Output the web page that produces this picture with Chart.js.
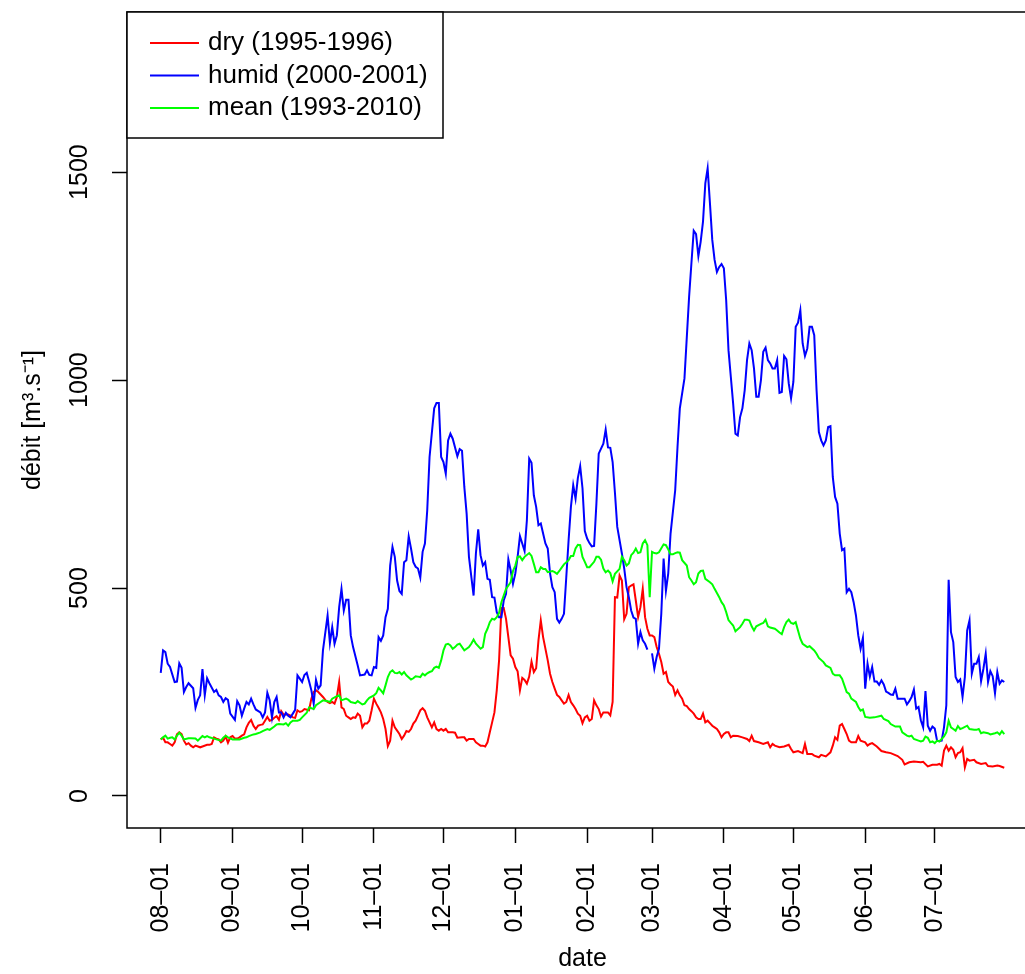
<!DOCTYPE html>
<html>
<head>
<meta charset="utf-8">
<script src="https://cdn.jsdelivr.net/npm/chart.js@4.4.1/dist/chart.umd.min.js"></script>
<style>
  html, body { margin: 0; padding: 0; background: #fff; overflow: hidden; }
  #wrap { width: 1045px; height: 974px; }
</style>
</head>
<body>
<div id="wrap"><canvas id="chartDebit" width="1045" height="974"></canvas></div>
<script>
// --- axes ---
const monthDays = [0, 31, 61, 92, 122, 153, 184, 212, 243, 273, 304, 334];
const monthLabels = ['08–01', '09–01', '10–01', '11–01', '12–01', '01–01', '02–01', '03–01', '04–01', '05–01', '06–01', '07–01'];
const yTicks = [0, 500, 1000, 1500];

// --- series: [day since 08-01, débit] ---
const dryPts = [[0,136],[1,140],[2,129],[3,129],[4,125],[5,121],[6,129],[7,148],[8,153],[9,149],[10,133],[11,124],[12,127],[13,121],[14,117],[15,121],[17,117],[18,119],[20,123],[21,123],[22,125],[23,141],[24,138],[25,136],[26,129],[27,133],[28,143],[29,128],[30,141],[31,144],[32,138],[33,138],[34,141],[35,145],[36,148],[37,165],[38,176],[39,183],[40,169],[41,161],[42,169],[43,171],[44,172],[45,181],[46,190],[47,181],[48,183],[49,188],[50,192],[51,183],[52,204],[53,196],[54,196],[55,196],[56,193],[57,189],[58,188],[59,206],[60,202],[61,204],[62,209],[64,206],[65,234],[66,250],[67,254],[68,250],[69,244],[70,238],[71,231],[72,226],[73,223],[74,226],[75,222],[76,238],[77,274],[78,213],[79,209],[80,193],[81,189],[82,185],[83,189],[84,188],[85,198],[86,193],[87,165],[88,174],[89,174],[90,181],[91,206],[92,234],[93,222],[94,212],[95,201],[96,185],[97,161],[98,120],[99,133],[100,181],[101,165],[102,157],[103,149],[104,137],[105,145],[106,156],[107,154],[108,161],[109,174],[110,181],[111,193],[112,206],[113,211],[114,205],[115,189],[116,177],[117,165],[118,177],[119,161],[120,157],[121,161],[122,157],[123,161],[124,153],[126,153],[127,152],[128,140],[130,141],[131,141],[132,133],[133,137],[135,137],[136,129],[137,125],[138,121],[139,121],[140,119],[141,129],[142,153],[143,177],[144,201],[145,254],[146,326],[147,452],[148,452],[149,426],[151,338],[152,330],[153,310],[154,300],[155,254],[156,284],[157,279],[158,270],[159,287],[160,323],[161,298],[162,307],[163,374],[164,422],[165,382],[167,326],[168,294],[169,274],[170,258],[171,243],[172,238],[173,230],[174,222],[175,226],[176,243],[177,226],[178,218],[179,209],[180,198],[181,193],[182,175],[183,189],[184,193],[185,181],[186,185],[187,230],[188,218],[189,209],[190,191],[191,201],[192,201],[193,201],[194,194],[195,226],[196,478],[197,477],[198,530],[199,518],[200,425],[201,438],[202,502],[203,506],[204,509],[205,470],[206,430],[207,454],[208,498],[209,430],[210,402],[211,386],[212,386],[213,382],[214,358],[215,342],[216,322],[217,294],[218,298],[219,274],[220,268],[221,263],[222,243],[223,254],[224,242],[225,234],[226,218],[227,216],[228,209],[229,204],[230,198],[231,189],[232,185],[233,185],[234,198],[235,177],[236,181],[237,175],[238,169],[239,165],[240,161],[241,153],[242,141],[243,149],[244,153],[245,153],[246,141],[247,145],[249,144],[251,141],[253,137],[254,132],[255,145],[256,132],[258,129],[260,125],[262,129],[263,117],[264,125],[265,121],[267,117],[269,119],[271,123],[272,113],[273,105],[275,108],[277,103],[278,125],[279,101],[281,101],[282,97],[284,93],[285,99],[287,95],[289,105],[290,121],[291,141],[292,135],[293,169],[294,173],[295,161],[296,149],[297,133],[298,129],[300,129],[301,144],[302,133],[304,129],[305,121],[306,125],[307,127],[309,119],[311,108],[313,105],[315,103],[318,96],[320,87],[321,76],[323,81],[325,83],[328,81],[329,82],[331,71],[333,75],[335,75],[336,77],[337,73],[338,109],[339,121],[340,109],[341,117],[342,111],[343,93],[344,103],[345,105],[346,115],[347,69],[348,89],[349,85],[351,87],[352,81],[354,77],[356,79],[357,72],[359,71],[361,73],[362,72],[364,68]];

const humidPts = [[0,296],[1,350],[2,346],[3,318],[4,310],[6,274],[7,275],[8,319],[9,308],[10,250],[11,262],[12,271],[14,259],[15,212],[16,231],[17,242],[18,305],[19,242],[20,283],[21,271],[23,250],[24,255],[25,242],[26,238],[27,226],[28,235],[29,231],[30,198],[32,183],[33,228],[34,218],[35,193],[36,210],[37,226],[38,220],[39,234],[40,220],[41,208],[43,201],[44,189],[45,201],[46,248],[47,230],[48,189],[49,226],[50,238],[51,201],[52,201],[53,189],[54,200],[55,193],[56,189],[57,198],[58,207],[59,290],[60,282],[61,274],[62,291],[63,296],[64,276],[65,254],[66,222],[67,279],[68,258],[69,266],[70,350],[72,434],[73,368],[74,406],[75,366],[76,386],[77,454],[78,498],[79,446],[80,472],[81,472],[82,386],[83,358],[85,314],[86,290],[88,292],[89,302],[90,291],[91,290],[92,310],[93,308],[94,382],[95,373],[96,386],[97,430],[98,450],[99,554],[100,599],[101,575],[102,518],[103,493],[104,486],[105,562],[106,567],[107,624],[108,595],[109,562],[110,551],[111,547],[112,525],[113,587],[114,607],[115,687],[116,815],[118,932],[119,945],[120,945],[121,815],[122,803],[123,775],[124,855],[125,871],[126,859],[128,817],[129,834],[130,830],[131,743],[132,679],[133,575],[135,482],[136,583],[137,641],[138,579],[139,554],[140,562],[141,522],[142,520],[143,478],[144,477],[145,442],[146,430],[147,430],[148,470],[149,486],[150,569],[151,542],[152,510],[153,535],[154,575],[155,625],[156,607],[157,589],[158,663],[159,811],[160,801],[161,723],[162,695],[163,651],[164,655],[165,631],[166,607],[167,595],[168,535],[169,502],[170,490],[171,426],[172,417],[173,426],[174,438],[175,526],[176,615],[177,695],[178,747],[179,715],[180,765],[181,793],[182,740],[183,637],[184,619],[185,608],[186,600],[187,601],[188,703],[189,823],[190,835],[191,847],[192,881],[193,838],[194,837],[195,803],[196,729],[197,647],[199,583],[200,547],[201,502],[202,478],[203,446],[204,429],[205,426],[206,366],[207,394],[208,374],[209,366],[210,352],[211,null],[212,343],[213,306],[214,334],[215,354],[216,438],[217,571],[218,493],[219,535],[220,631],[222,735],[223,839],[224,932],[226,1004],[228,1200],[229,1281],[230,1359],[231,1351],[232,1298],[233,1333],[234,1381],[235,1473],[236,1509],[237,1425],[238,1337],[239,1289],[240,1260],[241,1272],[242,1279],[243,1269],[244,1192],[245,1072],[246,1008],[247,944],[248,871],[249,867],[250,911],[251,932],[252,976],[253,1048],[254,1088],[255,1072],[256,1028],[257,960],[258,960],[259,1000],[260,1068],[261,1078],[262,1048],[263,1040],[264,1028],[265,1028],[266,1048],[267,969],[268,971],[269,1058],[270,1050],[271,992],[272,956],[273,996],[274,1128],[275,1138],[276,1168],[277,1088],[278,1058],[279,1076],[280,1128],[281,1128],[282,1108],[283,976],[284,875],[285,855],[286,843],[287,855],[288,887],[289,889],[290,767],[291,719],[292,703],[293,631],[294,591],[295,595],[296,490],[297,498],[298,490],[299,466],[300,434],[301,386],[302,354],[303,380],[304,258],[305,318],[306,287],[307,310],[308,275],[309,275],[310,267],[311,278],[312,268],[313,251],[314,248],[315,244],[316,243],[317,258],[318,234],[320,234],[321,234],[322,220],[323,228],[324,238],[325,256],[326,210],[327,214],[328,182],[329,165],[330,252],[331,169],[332,157],[333,167],[334,162],[335,133],[336,132],[337,133],[338,165],[339,218],[340,520],[341,394],[342,370],[343,286],[344,274],[345,280],[346,238],[347,286],[348,398],[349,422],[350,294],[351,318],[352,318],[353,334],[354,276],[355,306],[356,342],[357,274],[358,300],[359,288],[360,247],[361,298],[362,270],[363,278],[364,274]];

const meanPts = [[0,136],[1,141],[2,145],[3,138],[4,140],[5,141],[6,136],[7,145],[8,152],[9,145],[10,136],[12,139],[13,139],[15,138],[16,133],[18,144],[19,141],[20,144],[21,141],[23,138],[24,136],[26,133],[27,140],[28,145],[29,141],[31,136],[32,136],[34,136],[36,140],[37,141],[38,144],[40,148],[41,149],[43,153],[44,156],[46,161],[47,159],[49,167],[50,172],[51,173],[53,172],[54,175],[55,169],[56,177],[57,181],[59,181],[60,183],[61,189],[63,200],[64,213],[66,209],[67,218],[69,226],[70,230],[72,228],[73,226],[74,234],[76,240],[77,242],[78,230],[80,234],[81,231],[82,226],[84,223],[85,228],[87,220],[88,222],[89,230],[90,236],[92,242],[93,247],[94,260],[95,254],[96,247],[97,266],[98,286],[99,298],[100,302],[101,296],[102,295],[103,298],[104,292],[105,298],[106,290],[108,280],[109,283],[110,288],[111,287],[112,286],[113,294],[114,290],[115,295],[116,298],[117,300],[118,308],[119,311],[120,308],[121,326],[122,350],[123,364],[124,366],[125,362],[126,354],[127,358],[128,364],[129,366],[131,350],[132,354],[133,358],[134,366],[135,376],[136,366],[138,354],[139,358],[140,390],[141,402],[142,418],[143,426],[144,424],[145,430],[146,440],[147,466],[148,482],[149,498],[151,514],[152,541],[153,554],[154,575],[155,576],[156,567],[157,575],[159,584],[160,577],[161,558],[162,538],[163,538],[164,550],[165,546],[166,546],[167,538],[169,541],[170,538],[171,534],[172,541],[173,549],[174,557],[176,567],[177,577],[178,577],[179,595],[180,604],[181,603],[182,575],[183,563],[184,550],[185,550],[187,563],[188,575],[189,575],[190,568],[191,547],[192,538],[193,542],[194,536],[195,516],[196,534],[198,546],[199,575],[200,567],[201,554],[202,559],[203,579],[204,585],[205,595],[206,584],[207,586],[208,607],[209,615],[210,603],[211,478],[212,587],[213,584],[214,583],[215,586],[217,605],[218,603],[219,593],[220,581],[221,581],[222,584],[223,586],[224,585],[225,567],[227,554],[228,526],[229,518],[230,509],[231,514],[232,535],[233,541],[234,542],[235,522],[237,514],[238,509],[239,498],[240,488],[241,478],[242,466],[243,458],[244,442],[245,423],[246,416],[247,410],[248,396],[250,406],[251,414],[252,424],[253,424],[254,422],[255,408],[256,398],[257,408],[259,414],[260,416],[261,424],[262,408],[263,405],[265,402],[266,398],[267,393],[268,389],[269,406],[270,418],[271,424],[272,416],[273,414],[274,418],[275,398],[276,378],[277,366],[279,358],[280,360],[282,350],[283,342],[284,332],[286,322],[287,314],[289,308],[290,294],[291,290],[293,290],[294,282],[295,266],[296,250],[297,246],[298,234],[300,226],[301,214],[302,205],[303,208],[304,190],[306,188],[308,189],[311,193],[312,185],[314,180],[315,173],[317,167],[319,167],[320,153],[322,145],[323,143],[324,145],[325,137],[327,133],[328,131],[329,133],[330,143],[331,140],[332,129],[333,131],[334,127],[335,133],[336,131],[338,143],[339,153],[340,181],[341,165],[342,161],[343,157],[344,168],[345,161],[346,163],[348,169],[349,161],[351,159],[352,159],[353,161],[354,151],[355,153],[357,151],[358,148],[360,151],[361,153],[362,148],[363,156],[364,149]];

const FONT = "'Liberation Sans', Arial, Helvetica, sans-serif";
const toXY = pts => pts.map(([x, y]) => ({ x: x, y: y }));

// fond blanc
const whiteBg = {
    id: 'whiteBg',
    beforeDraw(chart) {
        const c = chart.ctx;
        c.save(); c.fillStyle = '#ffffff'; c.fillRect(0, 0, chart.width, chart.height); c.restore();
    }
};

// cadre du graphique (box)
const plotBox = {
    id: 'plotBox',
    afterDraw(chart) {
        const c = chart.ctx, a = chart.chartArea;
        c.save(); c.strokeStyle = '#000'; c.lineWidth = 1.5;
        c.strokeRect(a.left, a.top, a.right - a.left, a.bottom - a.top);
        c.restore();
    }
};

// légende encadrée en haut à gauche
const boxLegend = {
    id: 'boxLegend',
    afterDraw(chart) {
        const c = chart.ctx, a = chart.chartArea;
        const x0 = a.left, y0 = a.top;
        c.save();
        c.fillStyle = '#fff'; c.fillRect(x0, y0, 316, 126);
        c.strokeStyle = '#000'; c.lineWidth = 1.5; c.strokeRect(x0, y0, 316, 126);
        c.font = '26px ' + FONT; c.textBaseline = 'middle'; c.textAlign = 'left';
        chart.data.datasets.forEach((ds, i) => {
            const y = y0 + 31 + i * 32.5;
            c.strokeStyle = ds.borderColor; c.lineWidth = 2;
            c.beginPath(); c.moveTo(x0 + 23, y); c.lineTo(x0 + 72, y); c.stroke();
            c.fillStyle = '#000'; c.fillText(ds.label, x0 + 81, y);
        });
        c.restore();
    }
};

const ctx = document.getElementById('chartDebit').getContext('2d');
new Chart(ctx, {
    type: 'line',
    data: {
        datasets: [
            { label: 'dry (1995-1996)', data: toXY(dryPts), borderColor: '#ff0000', order: 3 },
            { label: 'humid (2000-2001)', data: toXY(humidPts), borderColor: '#0000ff', order: 2 },
            { label: 'mean (1993-2010)', data: toXY(meanPts), borderColor: '#00ff00', order: 1 }
        ]
    },
    options: {
        responsive: false, animation: false, devicePixelRatio: 1,
        layout: { padding: { left: 0, top: 12, right: 7, bottom: 0 } },
        spanGaps: false,
        elements: { point: { radius: 0 }, line: { tension: 0, borderWidth: 2, fill: false } },
        plugins: { legend: { display: false }, tooltip: { enabled: false } },
        scales: {
            x: {
                type: 'linear', min: -14.56, max: 378.56,
                afterBuildTicks: axis => { axis.ticks = monthDays.map(v => ({ value: v })); },
                afterFit: axis => { axis.height = 146; axis.paddingLeft = 0; axis.paddingRight = 0; },
                ticks: {
                    autoSkip: false, minRotation: 90, maxRotation: 90, padding: 20, color: '#000',
                    font: { family: FONT, size: 25 },
                    callback: (v, i) => monthLabels[i]
                },
                grid: { drawOnChartArea: false, drawTicks: true, tickLength: 15, tickWidth: 1.5, tickColor: '#000' },
                border: { display: false },
                title: { display: true, text: 'date', color: '#000', font: { family: FONT, size: 25 }, padding: { top: 0, bottom: 0 } }
            },
            y: {
                type: 'linear', min: -77, max: 1885,
                afterBuildTicks: axis => { axis.ticks = yTicks.map(v => ({ value: v })); },
                afterFit: axis => { axis.width = 127; axis.paddingTop = 0; axis.paddingBottom = 0; },
                ticks: {
                    minRotation: 90, maxRotation: 90, crossAlign: 'center', padding: 4, color: '#000',
                    font: { family: FONT, size: 25 },
                    callback: v => String(v)
                },
                grid: { drawOnChartArea: false, drawTicks: true, tickLength: 15, tickWidth: 1.5, tickColor: '#000' },
                border: { display: false },
                title: { display: true, text: 'débit [m³.s⁻¹]', color: '#000', font: { family: FONT, size: 25 }, padding: { top: 18, bottom: 0 } }
            }
        }
    },
    plugins: [whiteBg, plotBox, boxLegend]
});
</script>
</body>
</html>
